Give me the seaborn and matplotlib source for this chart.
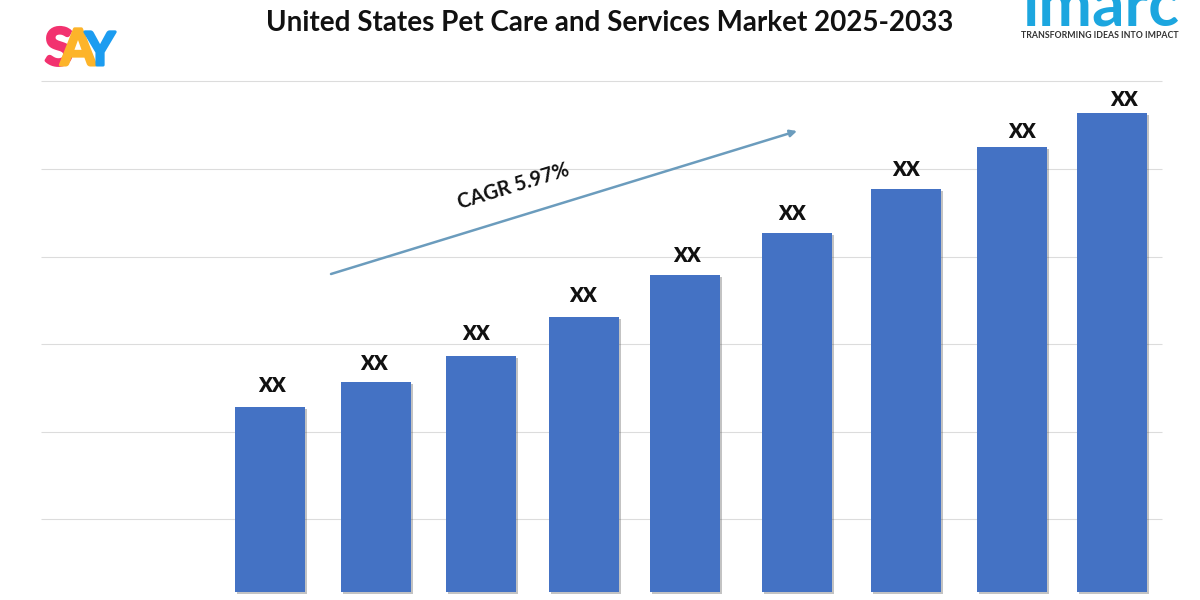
import numpy as np
import pandas as pd
import matplotlib
matplotlib.use("Agg")
import matplotlib.pyplot as plt
import matplotlib.patheffects as pe
import seaborn as sns

# data (bar height, same scale as grid_ticks)
years = [2025, 2026, 2027, 2028, 2029, 2030, 2031, 2032, 2033]
values = [185, 210, 236, 275, 317, 359, 403, 445, 479]
bar_labels = ["XX"] * 9
grid_ticks = [73, 160, 248, 335, 423, 511]
title = "United States Pet Care and Services Market 2025-2033"
cagr_label = "CAGR 5.97%"

sns.set_theme(style="white")
plt.rcParams["font.family"] = ["Lato", "DejaVu Sans"]

W, H = 1200, 600
BLUE = "#4472c4"
year_px = 105.25  # width of one year on the canvas
left = years[0] - 270 / year_px

fig = plt.figure(figsize=(12, 6), dpi=100)
ax = fig.add_axes([0, 0, 1, 1])

df = pd.DataFrame({"year": years, "value": values})
sns.barplot(data=df, x="year", y="value", native_scale=True, color=BLUE,
            saturation=1, width=70 / year_px, ax=ax, zorder=3)

ax.set_xlim(left, left + W / year_px)
ax.set_ylim(-8, 592)
ax.axis("off")


def px(x, y):
    # canvas pixels to axes fraction, for the furniture around the chart
    return x / W, 1 - y / H


# bars and their labels are hand placed in the reference, not evenly spaced
nudge_px = [0, 0.8, 0.5, -1.8, -6, 0.8, 4.5, 5.2, 0]
label_dx_px = [2, -2, -5, -1, 2, -5, 0, 10, 12]
label_gap_px = [22, 19, 23, 22, 20, 20, 19, 15, 14]
for bar, dx, ldx, gap, label in zip(ax.patches, nudge_px, label_dx_px, label_gap_px, bar_labels):
    bar.set_x(bar.get_x() + dx / year_px)
    bar.set_edgecolor("none")
    bar.set_path_effects([
        pe.SimplePatchShadow(offset=(1.5, -1.5), shadow_rgbFace="#555555", alpha=0.35),
        pe.Normal(),
    ])
    ax.annotate(label, (bar.get_x() + bar.get_width() / 2, bar.get_height()),
                xytext=(ldx * 0.72, gap * 0.72), textcoords="offset points", ha="center",
                va="center", fontsize=14.5, fontweight="heavy", color="#111111", zorder=5)

# grid lines stop short of the canvas edges
ax.hlines(grid_ticks, left + 41 / year_px, left + 1162 / year_px,
          color="#dcdcdc", linewidth=0.8, zorder=1)

fig.text(610 / W, 1 - 23 / H, title, ha="center", va="center", fontsize=20,
         fontweight="bold", color="#111111")

# growth arrow
ax.annotate("", xy=px(797, 131), xytext=px(331, 274), xycoords="axes fraction",
            textcoords="axes fraction",
            arrowprops=dict(arrowstyle="-|>", color="#6b9cbd", lw=1.8, mutation_scale=10,
                            shrinkA=0, shrinkB=0), zorder=4)
ax.text(*px(513, 186), cagr_label, transform=ax.transAxes, rotation=17, ha="center",
        va="center", rotation_mode="anchor", fontsize=14.5, fontweight="bold", color="#111111")

# SAY logo, stroked a little to get the heavy rounded letters
for letter, x, size, colour in [("S", 59, 37, "#f2326f"), ("A", 78, 36, "#fdb42a"), ("Y", 100, 33, "#1c9cf0")]:
    ax.text(*px(x, 65), letter, transform=ax.transAxes, ha="center", va="baseline",
            fontsize=size, fontweight="bold", color=colour,
            path_effects=[pe.withStroke(linewidth=2.2, foreground=colour)])

# imarc logo, cut by the top edge like the reference
ax.text(*px(1101, 26), "imarc", transform=ax.transAxes, ha="center", va="baseline",
        fontsize=46, fontweight="bold", color="#1ca6df", clip_on=True)
ax.text(*px(1100, 35), "TRANSFORMING IDEAS INTO IMPACT", transform=ax.transAxes, ha="center",
        va="center", fontsize=6.3, fontweight="bold", color="#333333")

fig.savefig("out.png", dpi=100)
